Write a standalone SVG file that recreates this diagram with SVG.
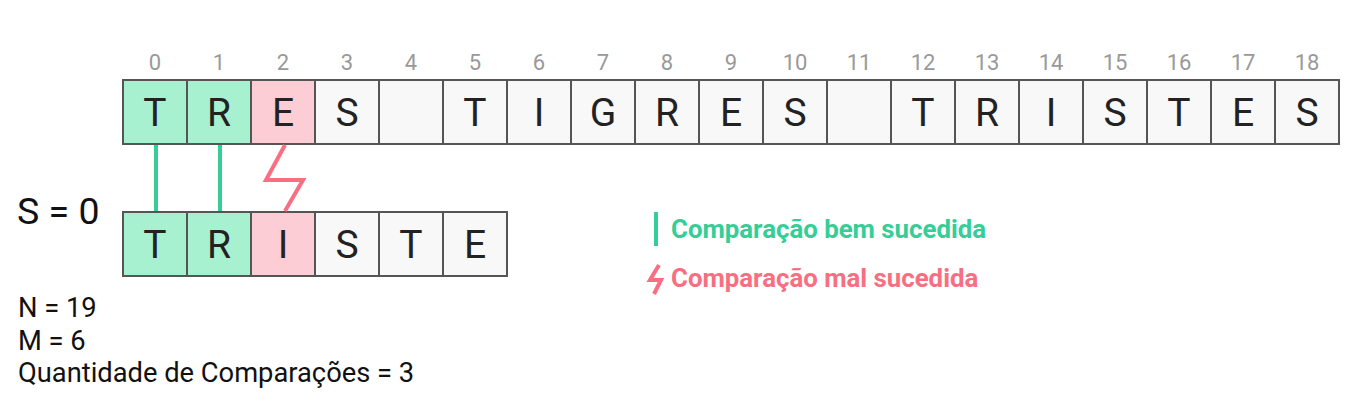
<svg xmlns="http://www.w3.org/2000/svg" width="1356" height="404" viewBox="0 0 1356 404">
<style>
.c{stroke:#555;stroke-width:2;fill:#f8f8f8}
.ok{fill:#a7f1d0}
.bad{fill:#fdcdd6}
.l{font-family:Roboto,"Liberation Sans",sans-serif;font-size:39px;fill:#222;text-anchor:middle}
.i{font-family:Roboto,"Liberation Sans",sans-serif;font-size:22px;fill:#999;text-anchor:middle}
.t{font-family:Roboto,"Liberation Sans",sans-serif;fill:#111}
.lg{font-family:Roboto,"Liberation Sans",sans-serif;font-size:25.8px;font-weight:bold}
.g{stroke:#34ce96;stroke-width:4;fill:none}
.r{stroke:#fa6e82;stroke-width:4;fill:none;stroke-linejoin:miter}
</style>
<g id="indices">
<text class="i" x="155" y="70">0</text><text class="i" x="219" y="70">1</text><text class="i" x="283" y="70">2</text><text class="i" x="347" y="70">3</text><text class="i" x="411" y="70">4</text><text class="i" x="475" y="70">5</text><text class="i" x="539" y="70">6</text><text class="i" x="603" y="70">7</text><text class="i" x="667" y="70">8</text><text class="i" x="731" y="70">9</text><text class="i" x="795" y="70">10</text><text class="i" x="859" y="70">11</text><text class="i" x="923" y="70">12</text><text class="i" x="987" y="70">13</text><text class="i" x="1051" y="70">14</text><text class="i" x="1115" y="70">15</text><text class="i" x="1179" y="70">16</text><text class="i" x="1243" y="70">17</text><text class="i" x="1307" y="70">18</text>
</g>
<g id="text-row">
<rect class="c ok" x="123" y="80" width="64" height="64"/><text class="l" x="155" y="126">T</text>
<rect class="c ok" x="187" y="80" width="64" height="64"/><text class="l" x="219" y="126">R</text>
<rect class="c bad" x="251" y="80" width="64" height="64"/><text class="l" x="283" y="126">E</text>
<rect class="c" x="315" y="80" width="64" height="64"/><text class="l" x="347" y="126">S</text>
<rect class="c" x="379" y="80" width="64" height="64"/>
<rect class="c" x="443" y="80" width="64" height="64"/><text class="l" x="475" y="126">T</text>
<rect class="c" x="507" y="80" width="64" height="64"/><text class="l" x="539" y="126">I</text>
<rect class="c" x="571" y="80" width="64" height="64"/><text class="l" x="603" y="126">G</text>
<rect class="c" x="635" y="80" width="64" height="64"/><text class="l" x="667" y="126">R</text>
<rect class="c" x="699" y="80" width="64" height="64"/><text class="l" x="731" y="126">E</text>
<rect class="c" x="763" y="80" width="64" height="64"/><text class="l" x="795" y="126">S</text>
<rect class="c" x="827" y="80" width="64" height="64"/>
<rect class="c" x="891" y="80" width="64" height="64"/><text class="l" x="923" y="126">T</text>
<rect class="c" x="955" y="80" width="64" height="64"/><text class="l" x="987" y="126">R</text>
<rect class="c" x="1019" y="80" width="64" height="64"/><text class="l" x="1051" y="126">I</text>
<rect class="c" x="1083" y="80" width="64" height="64"/><text class="l" x="1115" y="126">S</text>
<rect class="c" x="1147" y="80" width="64" height="64"/><text class="l" x="1179" y="126">T</text>
<rect class="c" x="1211" y="80" width="64" height="64"/><text class="l" x="1243" y="126">E</text>
<rect class="c" x="1275" y="80" width="64" height="64"/><text class="l" x="1307" y="126">S</text>
</g>
<g id="pattern-row">
<rect class="c ok" x="123" y="212" width="64" height="64"/><text class="l" x="155" y="258">T</text>
<rect class="c ok" x="187" y="212" width="64" height="64"/><text class="l" x="219" y="258">R</text>
<rect class="c bad" x="251" y="212" width="64" height="64"/><text class="l" x="283" y="258">I</text>
<rect class="c" x="315" y="212" width="64" height="64"/><text class="l" x="347" y="258">S</text>
<rect class="c" x="379" y="212" width="64" height="64"/><text class="l" x="411" y="258">T</text>
<rect class="c" x="443" y="212" width="64" height="64"/><text class="l" x="475" y="258">E</text>
</g>
<g id="connectors">
<line class="g" x1="156" y1="145" x2="156" y2="211"/>
<line class="g" x1="220" y1="145" x2="220" y2="211"/>
<polyline class="r" points="285,145 266,180 303,180 285,211"/>
</g>
<g id="shift"><text class="t" x="17" y="224" font-size="37.5">S = 0</text></g>
<g id="legend">
<line class="g" x1="656" y1="212" x2="656" y2="246"/>
<text class="lg" x="671" y="238" fill="#34ce96">Comparação bem sucedida</text>
<polyline class="r" stroke-width="3" points="659,265 650,280 661,280 654,294"/>
<text class="lg" x="671" y="287" fill="#fa6e82">Comparação mal sucedida</text>
</g>
<g id="info">
<text class="t" x="18" y="317" font-size="27.3">N = 19</text>
<text class="t" x="18" y="350" font-size="27.3">M = 6</text>
<text class="t" x="18" y="382" font-size="27.3">Quantidade de Comparações = 3</text>
</g>
</svg>
